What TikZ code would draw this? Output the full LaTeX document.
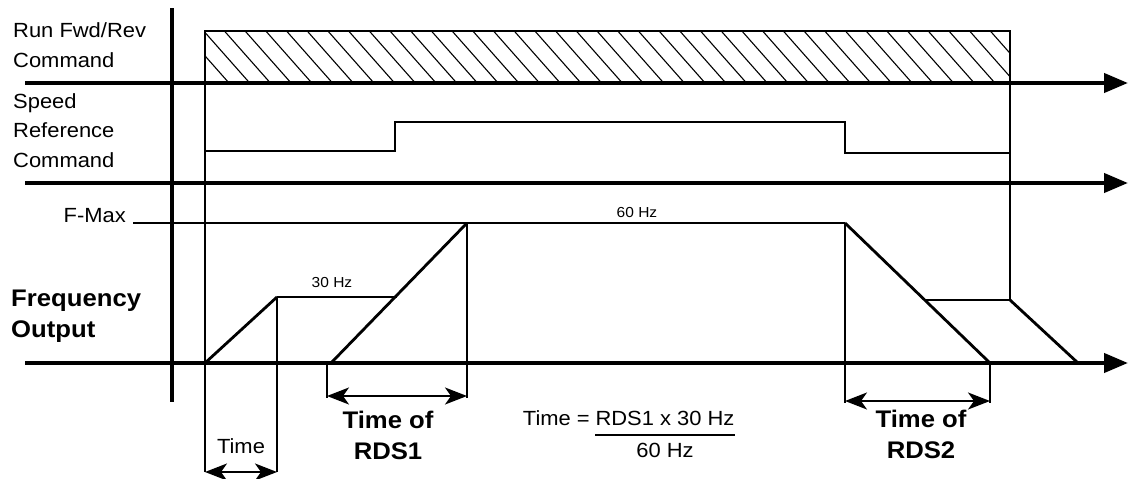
\documentclass[tikz,border=0pt]{standalone}
\usepackage{fontspec}
\setmainfont{Liberation Sans}[FakeStretch=1.07]
\usetikzlibrary{arrows.meta,calc}
\begin{document}
\begin{tikzpicture}[x=1pt,y=-1pt,
  axis/.style={line width=4.2pt,-{Triangle[length=24pt,width=19pt]}},
  vaxis/.style={line width=4.2pt},
  thinline/.style={line width=1.8pt},
  sig/.style={line width=2.8pt,line join=miter},
  hatch/.style={line width=1.1pt},
  dim/.style={line width=2pt,{Stealth[length=22pt,width=17pt,inset=6pt]}-{Stealth[length=22pt,width=17pt,inset=6pt]}},
  lbl/.style={font=\fontsize{20.5}{29.5}\selectfont,inner sep=0pt,align=left},
  blbl/.style={font=\bfseries\fontsize{24}{31}\selectfont,inner sep=0pt,align=center},
  small/.style={font=\fontsize{14.5}{16}\selectfont,inner sep=0pt},
]
\useasboundingbox (0,0) rectangle (1130,479);

% ---- coordinates ----
\coordinate (vtop) at (172,8);   \coordinate (vbot) at (172,402);
\coordinate (a1s) at (25,83);    \coordinate (a1e) at (1128,83);
\coordinate (a2s) at (25,183);   \coordinate (a2e) at (1128,183);
\coordinate (a3s) at (25,363);   \coordinate (a3e) at (1128,363);
\coordinate (bxl) at (205,31);   \coordinate (bxr) at (1010,31);
\coordinate (t0bot) at (205,472);
\coordinate (stopb) at (1010,300);
% speed reference
\coordinate (s1) at (205,151); \coordinate (s2) at (395,151);
\coordinate (s3) at (395,122); \coordinate (s4) at (845,122);
\coordinate (s5) at (845,153); \coordinate (s6) at (1010,153);
% frequency output
\coordinate (f0) at (205,363);  \coordinate (f1) at (277,297);
\coordinate (f1b) at (277,472); \coordinate (f2) at (397,297);
\coordinate (r0) at (331,363);  \coordinate (r1top) at (467,223);
\coordinate (r1bot) at (467,398);
\coordinate (fm0) at (133,223); \coordinate (fm1) at (845,223);
\coordinate (d1b) at (990,363);
\coordinate (d1mid) at ($(fm1)!0.55!(d1b)$);
\coordinate (d2b) at (1078,363);
\coordinate (fm1bot) at (845,403);
\coordinate (d1bot) at (990,403);
\coordinate (rl) at (327,363);  \coordinate (rlbot) at (327,398);

% ---- hatched command box ----
\begin{scope}
  \clip (bxl) rectangle (1010,83);
  \foreach \i in {0,...,42}
    \draw[hatch] ({183+\i*20.7},31) -- ({183+\i*20.7+46},83);
\end{scope}
\draw[thinline] (t0bot) -- (bxl) -- (bxr) -- (stopb);

% ---- speed reference ----
\draw[thinline] (s1) -- (s2) -- (s3) -- (s4) -- (s5) -- (s6);

% ---- frequency output ----
\draw[thinline] (fm0) -- (fm1);
\draw[sig] (f0) -- (f1);
\draw[thinline] (f1) -- (f2);
\draw[thinline] (f1) -- (f1b);
\draw[sig] (r0) -- (r1top);
\draw[thinline] (r1top) -- (r1bot);
\draw[sig] (fm1) -- (d1b);
\draw[thinline] (fm1) -- (fm1bot);
\draw[thinline] (d1b) -- (d1bot);
\draw[thinline] (d1mid) -- (stopb);
\draw[sig] (stopb) -- (d2b);
\draw[thinline] (rl) -- (rlbot);

% ---- axes ----
\draw[vaxis] (vtop) -- (vbot);
\draw[axis] (a1s) -- (a1e);
\draw[axis] (a2s) -- (a2e);
\draw[axis] (a3s) -- (a3e);

% ---- dimension arrows ----
\coordinate (tL) at (205,472); \coordinate (tR) at (277,472);
\coordinate (rA) at (327,396); \coordinate (rB) at (467,396);
\coordinate (qA) at (845,401); \coordinate (qB) at (990,401);
\draw[dim] (tL) -- (tR);
\draw[dim] (rA) -- (rB);
\draw[dim] (qA) -- (qB);

% ---- labels (base anchor = last line's baseline) ----
\node[lbl,anchor=base west] (run) at (13,67) {Run Fwd/Rev\\Command};
\node[lbl,anchor=base west] (spd) at (13,167) {Speed\\Reference\\Command};
\node[lbl,anchor=base east] (fmax) at (126,222) {F-Max};
\node[blbl,align=left,anchor=base west] (fo) at (11,337) {Frequency\\Output};
\node[small,anchor=base] (hz30) at (332,287) {30 Hz};
\node[small,anchor=base] (hz60) at (637,217) {60 Hz};
\node[lbl,anchor=base] (time) at (241,453) {Time};
\node[blbl,anchor=base] (rds1) at (388,459) {Time of\\RDS1};
\node[blbl,anchor=base] (rds2) at (921,458) {Time of\\RDS2};
\node[lbl,anchor=base east] (eq) at (590,425) {Time =};
\node[lbl,anchor=base] (num) at (665,425) {RDS1 x 30 Hz};
\node[lbl,anchor=base] (den) at (665,457) {60 Hz};
\coordinate (barL) at (595,435); \coordinate (barR) at (735,435);
\draw[line width=1.4pt] (barL) -- (barR);
\end{tikzpicture}
\end{document}
